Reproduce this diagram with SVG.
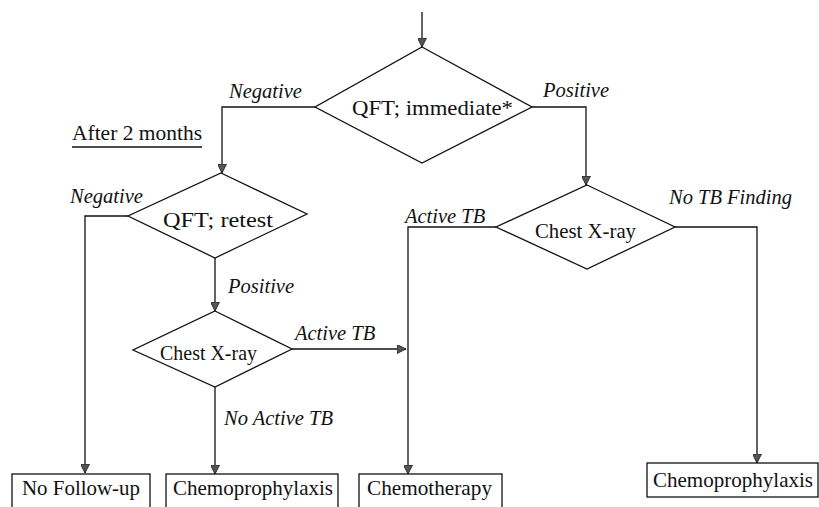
<svg xmlns="http://www.w3.org/2000/svg" width="819" height="507" viewBox="0 0 819 507">
<defs>
<style>
.shape{fill:#fff;stroke:#111;stroke-width:1.3}
.line{fill:none;stroke:#111;stroke-width:1.3}
.t{font-family:"Liberation Serif","Times New Roman",serif;font-size:21px;fill:#111}
.d{font-size:22px}
.i{font-style:italic;font-size:20.5px}
</style>
<marker id="arr" viewBox="0 0 10 10" refX="10" refY="5" markerWidth="9" markerHeight="9" markerUnits="userSpaceOnUse" orient="auto">
<path d="M0,0 L10,5 L0,10 Z" fill="#555" stroke="#222" stroke-width="1"/>
</marker>
</defs>
<rect width="819" height="507" fill="#fff"/>
<g id="connectors">
<path class="line" d="M422,12 V47" marker-end="url(#arr)"/>
<path class="line" d="M315,107 H222 V173" marker-end="url(#arr)"/>
<path class="line" d="M532,107 H586 V185" marker-end="url(#arr)"/>
<path class="line" d="M128,216 H85 V473" marker-end="url(#arr)"/>
<path class="line" d="M215,258 V311" marker-end="url(#arr)"/>
<path class="line" d="M292,349 H406" marker-end="url(#arr)"/>
<path class="line" d="M215,387 V474" marker-end="url(#arr)"/>
<path class="line" d="M496,227 H408 V474" marker-end="url(#arr)"/>
<path class="line" d="M675,227 H757 V463" marker-end="url(#arr)"/>
<text class="t i" x="229" y="98">Negative</text>
<text class="t i" x="543" y="97">Positive</text>
<text class="t i" x="70" y="203">Negative</text>
<text class="t i" x="228" y="293">Positive</text>
<text class="t i" x="295" y="340">Active TB</text>
<text class="t i" x="224" y="425">No Active TB</text>
<text class="t i" x="405" y="223">Active TB</text>
<text class="t i" x="669" y="204">No TB Finding</text>
</g>
<g id="after2months">
<text class="t" x="72" y="140" textLength="130" lengthAdjust="spacingAndGlyphs">After 2 months</text>
<line class="line" x1="72" y1="147" x2="202" y2="147"/>
</g>
<g id="qft-immediate">
<polygon class="shape" points="422,47 532,107 422,163 315,107"/>
<text class="t d" x="352" y="115" textLength="161" lengthAdjust="spacingAndGlyphs">QFT; immediate*</text>
</g>
<g id="qft-retest">
<polygon class="shape" points="221,173 307,214 215,258 128,216"/>
<text class="t d" x="163" y="227" textLength="110" lengthAdjust="spacingAndGlyphs">QFT; retest</text>
</g>
<g id="chest-xray-left">
<polygon class="shape" points="215,311 292,349 215,387 133,350"/>
<text class="t" x="160" y="360" textLength="97" lengthAdjust="spacingAndGlyphs">Chest X-ray</text>
</g>
<g id="chest-xray-right">
<polygon class="shape" points="587,185 675,227 587,269 496,227"/>
<text class="t" x="535" y="238" textLength="101" lengthAdjust="spacingAndGlyphs">Chest X-ray</text>
</g>
<g id="no-follow-up">
<rect class="shape" x="12" y="474" width="138" height="40"/>
<text class="t" x="22" y="495" textLength="118" lengthAdjust="spacingAndGlyphs">No Follow-up</text>
</g>
<g id="chemoprophylaxis-left">
<rect class="shape" x="166" y="474" width="172" height="40"/>
<text class="t" x="173" y="495" textLength="160" lengthAdjust="spacingAndGlyphs">Chemoprophylaxis</text>
</g>
<g id="chemotherapy">
<rect class="shape" x="359" y="474" width="143" height="40"/>
<text class="t" x="367" y="495" textLength="125" lengthAdjust="spacingAndGlyphs">Chemotherapy</text>
</g>
<g id="chemoprophylaxis-right">
<rect class="shape" x="647" y="463" width="171" height="34"/>
<text class="t" x="653" y="487" textLength="160" lengthAdjust="spacingAndGlyphs">Chemoprophylaxis</text>
</g>
</svg>
